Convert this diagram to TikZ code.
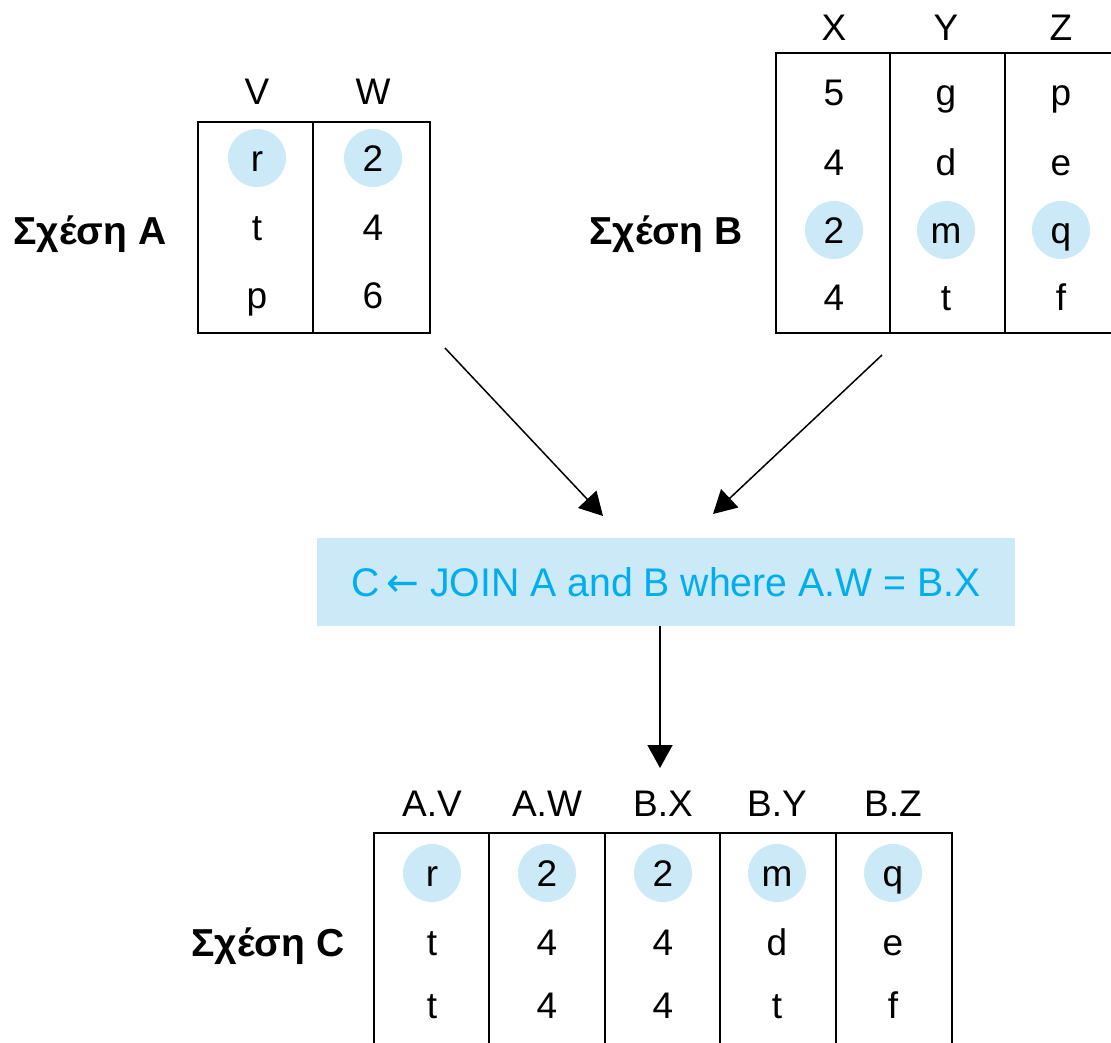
\documentclass[tikz,border=0pt]{standalone}
\usepackage{fontspec}
\setmainfont{Liberation Sans}
\newfontfamily\arrowfont{DejaVu Sans}
\usetikzlibrary{arrows.meta}
\definecolor{hilite}{HTML}{CCE9F8}
\definecolor{joinblue}{HTML}{00AEEF}
\tikzset{
	cell/.style={font=\fontsize{37}{37}\selectfont, inner sep=0pt, text height=26pt, text depth=0pt},
	hit/.style={cell, circle, fill=hilite, minimum size=58pt},
	rel/.style={font=\fontsize{39}{39}\selectfont\bfseries, inner sep=0pt, text height=28pt, text depth=0pt},
	grid/.style={line width=1.5pt},
	flow/.style={line width=1.5pt, -{Triangle[length=23pt,width=25pt]}}
}
\begin{document}
\begin{tikzpicture}[x=1pt, y=-1pt]
	\useasboundingbox (0,0) rectangle (1111,1042);
	\fill[white] (0,0) rectangle (1111,1042);
	\clip (0,0) rectangle (1111,1042);
	% Table A
	\draw[grid] (198,122) rectangle (430,333);
	\draw[grid] (313,122) -- (313,333);
	\node[cell] (AV) at (257,91) {V};
	\node[cell] (AW) at (373,91) {W};
	\node[hit] (A1) at (257,158) {r};
	\node[hit] (A2) at (373,158) {2};
	\node[cell] (A3) at (257,227) {t};
	\node[cell] (A4) at (373,227) {4};
	\node[cell] (A5) at (257,295) {p};
	\node[cell] (A6) at (373,295) {6};
	\node[rel] (RA) at (90,230) {Σχέση A};
	% Table B
	\draw[grid] (776,53) rectangle (1120,333);
	\draw[grid] (890,53) -- (890,333);
	\draw[grid] (1005,53) -- (1005,333);
	\node[cell] (BX) at (834,27) {X};
	\node[cell] (BY) at (946,27) {Y};
	\node[cell] (BZ) at (1061,27) {Z};
	\node[cell] (B1) at (834,92) {5};
	\node[cell] (B2) at (946,92) {g};
	\node[cell] (B3) at (1061,92) {p};
	\node[cell] (B4) at (834,162) {4};
	\node[cell] (B5) at (946,162) {d};
	\node[cell] (B6) at (1061,162) {e};
	\node[hit] (B7) at (834,230) {2};
	\node[hit] (B8) at (946,230) {m};
	\node[hit] (B9) at (1061,230) {q};
	\node[cell] (B10) at (834,297) {4};
	\node[cell] (B11) at (946,297) {t};
	\node[cell] (B12) at (1061,297) {f};
	\node[rel] (RB) at (666,230) {Σχέση B};
	% Join box
	\node[fill=hilite, minimum width=698pt, minimum height=88pt, inner sep=0pt, text=joinblue,
		font=\fontsize{40}{40}\selectfont] (J) at (666,582) {\scalebox{0.98}[1]{C\,{\arrowfont ←} JOIN A and B where A.W = B.X}};
	% Arrows into and out of the join
	\coordinate (a1) at (445,348);
	\coordinate (a2) at (603,516);
	\coordinate (b1) at (882,355);
	\coordinate (b2) at (713,514);
	\coordinate (c1) at (660,626);
	\coordinate (c2) at (660,768);
	\draw[flow] (a1) -- (a2);
	\draw[flow] (b1) -- (b2);
	\draw[flow] (c1) -- (c2);
	% Table C
	\draw[grid] (374,1050) -- (374,833) -- (952,833) -- (952,1050);
	\draw[grid] (489,833) -- (489,1050);
	\draw[grid] (605,833) -- (605,1050);
	\draw[grid] (720,833) -- (720,1050);
	\draw[grid] (836,833) -- (836,1050);
	\node[cell] (CV) at (432,803) {A.V};
	\node[cell] (CW) at (547,803) {A.W};
	\node[cell] (CX) at (663,803) {B.X};
	\node[cell] (CY) at (777,803) {B.Y};
	\node[cell] (CZ) at (893,803) {B.Z};
	\node[hit] (C1) at (432,873) {r};
	\node[hit] (C2) at (547,873) {2};
	\node[hit] (C3) at (663,873) {2};
	\node[hit] (C4) at (777,873) {m};
	\node[hit] (C5) at (893,873) {q};
	\node[cell] (C6) at (432,942) {t};
	\node[cell] (C7) at (547,942) {4};
	\node[cell] (C8) at (663,942) {4};
	\node[cell] (C9) at (777,942) {d};
	\node[cell] (C10) at (893,942) {e};
	\node[cell] (C11) at (432,1005) {t};
	\node[cell] (C12) at (547,1005) {4};
	\node[cell] (C13) at (663,1005) {4};
	\node[cell] (C14) at (777,1005) {t};
	\node[cell] (C15) at (893,1005) {f};
	\node[rel] (RC) at (268,942) {Σχέση C};
\end{tikzpicture}
\end{document}
